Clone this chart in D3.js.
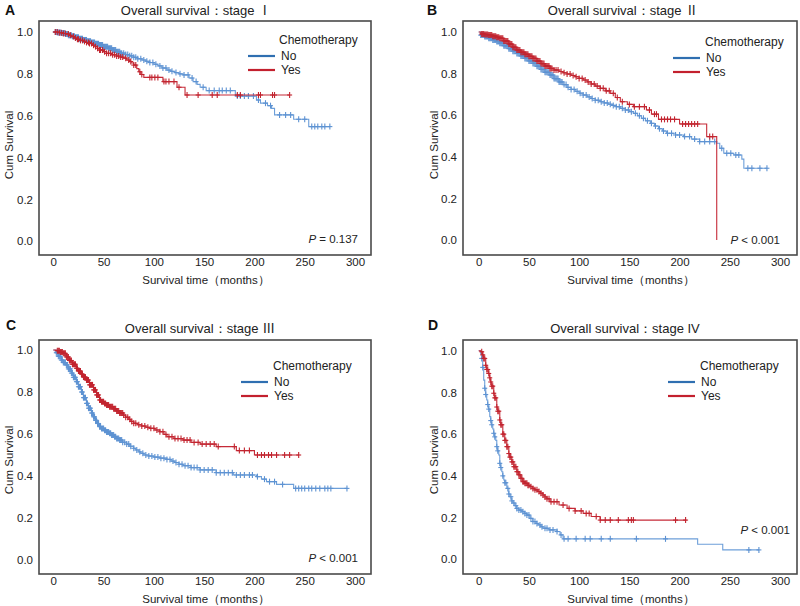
<!DOCTYPE html>
<html><head><meta charset="utf-8">
<script src="https://cdn.jsdelivr.net/npm/d3@7"></script>
<style>
html,body{margin:0;padding:0;background:#fff;}
svg text{font-family:"Liberation Sans",Arial,Helvetica,sans-serif;}
</style></head>
<body><svg id="chart" width="800" height="606"></svg>
<script>
// ---------------- DATA ----------------
const panelLetters = ["A","B","C","D"];
const panelTitles = ["Overall survival：stage ","Overall survival：stage ","Overall survival：stage ","Overall survival：stage "];
const stageNumerals = ["Ⅰ","Ⅱ","Ⅲ","IV"];
const pValues = ["= 0.137","< 0.001","< 0.001","< 0.001"];
const groupNames = ["No","Yes"];
const legendTitle = "Chemotherapy";
const xTicks = [0,50,100,150,200,250,300];
const yTicks = [0,0.2,0.4,0.6,0.8,1.0];
const xLabel = "Survival time（months）";
const yLabel = "Cum Survival";

// Kaplan-Meier steps [month, survival]
const stage1No = [[0,1],[4,0.998],[8,0.995],[12,0.99],[15,0.985],[19,0.98],[22,0.975],[26,0.968],[30,0.962],[34,0.956],[38,0.95],[42,0.944],[46,0.938],[50,0.93],[55,0.922],[59,0.914],[63,0.906],[67,0.899],[72,0.892],[76,0.886],[80,0.879],[84,0.872],[88,0.866],[92,0.86],[96,0.854],[100,0.846],[104,0.838],[108,0.828],[113,0.818],[117,0.812],[121,0.806],[125,0.8],[129,0.795],[135,0.78],[139,0.763],[143,0.75],[146,0.736],[152,0.72],[181,0.694],[202,0.675],[206,0.66],[213,0.648],[217,0.635],[220,0.604],[239,0.583],[254,0.548],[275,0.548]];
const stage1Yes = [[0,1],[6,0.997],[10,0.993],[13,0.99],[16,0.984],[18,0.978],[21,0.971],[23,0.965],[27,0.96],[30,0.955],[33,0.95],[36,0.945],[39,0.937],[42,0.93],[44,0.922],[46,0.914],[50,0.906],[53,0.898],[58,0.891],[63,0.885],[67,0.88],[70,0.875],[73,0.866],[76,0.859],[78,0.852],[80,0.842],[83,0.825],[85,0.81],[87,0.797],[90,0.783],[109,0.763],[123,0.736],[131,0.699],[235,0.699]];
const stage2No = [[0,1],[2,0.985],[6,0.978],[10,0.97],[14,0.962],[18,0.954],[21,0.946],[25,0.934],[30,0.92],[34,0.908],[38,0.897],[42,0.885],[46,0.873],[50,0.861],[54,0.849],[58,0.835],[62,0.82],[66,0.806],[71,0.793],[75,0.776],[80,0.76],[84,0.747],[88,0.734],[92,0.724],[96,0.715],[100,0.706],[104,0.697],[108,0.688],[112,0.68],[116,0.672],[121,0.665],[125,0.659],[129,0.653],[133,0.647],[137,0.641],[141,0.633],[146,0.625],[150,0.617],[154,0.609],[158,0.597],[162,0.585],[166,0.573],[171,0.561],[175,0.548],[179,0.535],[183,0.524],[187,0.513],[196,0.505],[204,0.497],[212,0.485],[220,0.473],[237,0.465],[240,0.441],[244,0.417],[254,0.409],[262,0.389],[264,0.345],[287,0.345]];
const stage2Yes = [[0,1],[2,0.99],[6,0.988],[10,0.985],[14,0.98],[18,0.975],[21,0.97],[25,0.957],[30,0.942],[34,0.927],[38,0.913],[42,0.903],[46,0.893],[50,0.883],[54,0.873],[58,0.86],[62,0.848],[66,0.836],[71,0.825],[75,0.817],[80,0.81],[84,0.804],[88,0.798],[92,0.791],[96,0.785],[100,0.777],[104,0.769],[108,0.76],[112,0.75],[116,0.74],[121,0.729],[126,0.717],[131,0.705],[136,0.685],[141,0.665],[148,0.652],[154,0.641],[167,0.625],[172,0.605],[179,0.58],[200,0.558],[227,0.497],[237,0]];
const stage3No = [[0,1],[2,0.987],[5,0.97],[8,0.952],[10,0.94],[13,0.929],[15,0.91],[18,0.89],[20,0.87],[23,0.849],[25,0.825],[28,0.8],[30,0.773],[33,0.746],[35,0.723],[38,0.7],[40,0.682],[42,0.665],[44,0.65],[46,0.635],[48,0.626],[51,0.618],[53,0.61],[56,0.603],[58,0.595],[61,0.587],[63,0.579],[66,0.571],[69,0.561],[73,0.552],[76,0.542],[80,0.532],[82,0.524],[85,0.515],[87,0.508],[90,0.5],[95,0.495],[100,0.49],[106,0.485],[113,0.479],[117,0.471],[121,0.464],[125,0.456],[129,0.449],[137,0.44],[146,0.429],[162,0.416],[179,0.405],[202,0.397],[207,0.385],[212,0.373],[222,0.36],[239,0.341],[292,0.341]];
const stage3Yes = [[0,1],[3,0.997],[7,0.99],[10,0.984],[13,0.967],[16,0.95],[19,0.932],[23,0.913],[25,0.9],[28,0.885],[30,0.871],[33,0.857],[36,0.834],[40,0.81],[43,0.786],[46,0.762],[48,0.754],[51,0.745],[53,0.738],[56,0.73],[60,0.72],[63,0.71],[66,0.7],[70,0.69],[72,0.68],[75,0.67],[77,0.66],[80,0.651],[84,0.644],[88,0.638],[92,0.632],[96,0.627],[101,0.619],[106,0.611],[110,0.598],[113,0.587],[120,0.578],[129,0.571],[137,0.56],[146,0.552],[162,0.54],[182,0.521],[200,0.5],[244,0.5]];
const stage4No = [[0,1],[2,0.985],[3,0.963],[4,0.92],[5,0.859],[6,0.82],[7,0.79],[8,0.764],[9,0.742],[10,0.72],[11,0.684],[12,0.665],[13,0.645],[14,0.625],[15,0.604],[16,0.587],[17,0.57],[18,0.54],[19,0.52],[20,0.5],[21,0.46],[22,0.44],[23,0.42],[24,0.4],[25,0.38],[26,0.367],[28,0.34],[30,0.313],[31,0.3],[33,0.28],[34,0.27],[36,0.257],[38,0.244],[40,0.236],[43,0.228],[46,0.22],[48,0.212],[51,0.196],[54,0.181],[57,0.172],[59,0.165],[62,0.156],[64,0.149],[70,0.141],[78,0.133],[81,0.117],[84,0.098],[218,0.072],[243,0.045],[279,0.045]];
const stage4Yes = [[0,1],[2,0.995],[4,0.98],[5,0.963],[7,0.93],[8,0.91],[10,0.891],[11,0.87],[12,0.85],[13,0.83],[15,0.796],[16,0.774],[18,0.73],[19,0.71],[21,0.668],[22,0.645],[24,0.6],[26,0.57],[28,0.54],[30,0.507],[31,0.49],[33,0.467],[35,0.444],[38,0.42],[40,0.405],[42,0.388],[44,0.372],[46,0.364],[49,0.355],[51,0.348],[54,0.34],[56,0.333],[59,0.325],[61,0.317],[64,0.308],[66,0.299],[68,0.29],[71,0.276],[80,0.26],[88,0.244],[96,0.232],[104,0.22],[112,0.205],[121,0.188],[207,0.188]];

// censored observation times (months)
const cens1No = [2,3,4,5,6,7,8,9,10,11,12,13,14,15,16,17,18,19,20,21,22,23,24,25,26,27,28,29,30,31,32,33,34,35,36,37,38,39,40,41,42,43,44,45,46,47,48,49,50,51,52,53,54,55,56,57,58,59,60,61,62,63,64,65,66,67,68,70,72,74,76,78,80,82,84,87,90,93,96,99,102,106,109,112,115,118,122,126,130,134,138,142,149,155,160,165,168,172,176,183,186,190,194,199,204,211,216,225,231,236,244,250,257,260,263,267,270,275];
const cens1Yes = [2,4,6,8,10,12,15,17,20,22,24,25,27,29,31,33,35,36,38,40,42,44,46,47,49,51,53,55,57,59,61,63,65,67,69,72,75,77,80,82,86,88,96,98,101,104,110,112,115,120,125,133,144,158,163,183,186,204,206,218,220,235];
const cens2No = [2,3,4,5,6,7,8,9,10,11,12,13,14,15,16,17,18,19,20,21,22,23,24,25,26,27,28,29,30,31,32,33,34,35,36,37,38,39,40,41,42,43,44,45,46,47,48,49,50,51,52,53,54,55,56,57,58,59,60,61,62,63,64,65,66,67,68,69,70,71,72,73,74,75,76,77,78,79,80,81,82,83,85,87,89,92,95,98,101,104,107,110,113,116,119,122,125,128,131,134,137,140,143,146,149,152,156,160,164,168,172,176,180,184,188,192,196,200,205,210,215,220,225,230,235,242,247,251,256,259,268,272,280,287];
const cens2Yes = [3,4,5,6,7,8,9,10,11,12,13,14,15,16,17,18,19,20,21,22,23,24,25,26,27,28,29,30,31,32,33,34,35,36,37,38,39,40,41,42,43,44,45,46,47,48,49,50,51,52,53,54,55,56,57,58,59,60,61,62,63,64,65,66,67,68,69,70,71,72,73,75,77,79,82,85,88,91,94,97,100,103,106,109,112,115,118,121,124,127,130,134,138,143,150,155,160,165,170,175,177,182,185,188,191,195,203,206,209,212,215,218,230,233];
const cens3No = [3,4,5,6,7,8,9,10,11,12,13,14,15,16,17,18,19,20,21,22,23,24,25,26,27,28,29,30,31,32,33,34,35,36,37,38,39,40,41,42,43,44,45,46,47,48,49,50,51,52,53,54,55,56,57,58,59,60,61,62,63,64,65,66,67,68,69,71,73,75,77,80,83,86,89,92,95,98,101,104,107,110,113,116,119,122,125,128,131,134,137,140,143,146,150,154,158,162,166,170,174,178,182,186,190,195,198,203,210,215,220,228,241,244,247,250,254,257,261,265,270,273,276,292];
const cens3Yes = [4,5,6,7,8,9,10,11,12,13,14,15,16,17,18,19,20,21,22,23,24,25,26,27,28,29,30,31,32,33,34,35,36,37,38,39,40,41,42,43,44,45,46,47,48,49,50,51,52,53,54,55,56,57,58,59,60,61,62,63,64,65,66,67,68,69,70,72,74,76,78,80,82,85,88,91,94,97,100,103,106,109,112,115,118,121,124,127,130,133,136,140,144,148,152,156,160,164,180,185,190,195,203,207,210,214,217,222,230,235,244];
const cens4No = [3,4,6,7,9,10,12,13,15,16,18,19,21,22,24,26,27,29,30,32,33,35,37,38,40,42,44,46,48,50,52,54,56,58,61,63,66,68,71,74,78,82,85,89,97,106,111,122,131,157,186,269,279];
const cens4Yes = [3,4,5,6,7,8,9,10,11,12,13,14,15,16,17,18,19,20,21,22,23,24,25,26,27,28,29,30,31,32,33,34,35,36,37,38,39,40,41,42,43,44,45,46,47,48,49,50,52,54,56,58,60,62,64,66,68,70,72,75,78,84,90,96,102,107,110,117,121,126,131,139,149,152,154,196,206];

// ---------------- LAYOUT ----------------
const panels = [
  {box:[39,21,371,255], x:[53.3,355], y:[241.3,32], title:[196,15], letter:[5,15], leg:[279,248], legY:40, pv:[358,243], ylab:[9,145]},
  {box:[463,21,797,255], x:[478.7,780], y:[240,32], title:[623,15], letter:[427,15], leg:[705,673], legY:42, pv:[780,244], ylab:[434,145]},
  {box:[39,340,371,574], x:[53.3,355], y:[560,350], title:[200,333], letter:[6,330], leg:[273,241], legY:366, pv:[358,562], ylab:[9,460]},
  {box:[463,340,797,574], x:[478.7,780], y:[559.3,350.7], title:[625,333], letter:[428,330], leg:[700,668], legY:366, pv:[790,534], ylab:[434,460]}
];
const curves = [[stage1No,stage1Yes],[stage2No,stage2Yes],[stage3No,stage3Yes],[stage4No,stage4Yes]];
const censors = [[cens1No,cens1Yes],[cens2No,cens2Yes],[cens3No,cens3Yes],[cens4No,cens4Yes]];
const lineColors = ["#6d9fd9","#c62b38"];
const markColors = ["#5d92d2","#c2242f"];
const legendColors = ["#2f6fb1","#c3202e"];

const svg = d3.select("#chart");

function survAt(steps, t){
  let s = steps[0][1];
  for (const p of steps){ if (p[0] <= t) s = p[1]; else break; }
  return s;
}

panels.forEach((P,i)=>{
  const g = svg.append("g");
  const x = d3.scaleLinear().domain([0,300]).range(P.x);
  const y = d3.scaleLinear().domain([0,1]).range(P.y);

  // axes (labels only)
  const xa = g.append("g").attr("transform",`translate(0,${P.box[3]+3})`)
    .call(d3.axisBottom(x).tickValues(xTicks).tickSize(0).tickPadding(0).tickFormat(d3.format("d")));
  xa.select(".domain").remove();
  xa.selectAll("text").attr("font-size",11.5).attr("fill","#222").attr("font-family","Liberation Sans, Arial, sans-serif");
  const ya = g.append("g").attr("transform",`translate(${P.box[0]-6},0)`)
    .call(d3.axisLeft(y).tickValues(yTicks).tickSize(0).tickPadding(0).tickFormat(d3.format(".1f")));
  ya.select(".domain").remove();
  ya.selectAll("text").attr("font-size",11.5).attr("fill","#222").attr("font-family","Liberation Sans, Arial, sans-serif");

  // curves
  const line = d3.line().x(d=>x(d[0])).y(d=>y(d[1])).curve(d3.curveStepAfter);
  curves[i].forEach((c,k)=>{
    g.append("path").attr("d",line(c)).attr("fill","none")
      .attr("stroke",lineColors[k]).attr("stroke-width",1.1);
    const cg = g.append("g").attr("stroke",markColors[k]).attr("stroke-width",1.1);
    censors[i][k].forEach(t=>{
      const cx = x(t), cy = y(survAt(c,t));
      cg.append("line").attr("x1",cx).attr("x2",cx).attr("y1",cy-3).attr("y2",cy+3);
      cg.append("line").attr("x1",cx-2.5).attr("x2",cx+2.5).attr("y1",cy).attr("y2",cy);
    });
  });

  // frame
  g.append("rect").attr("x",P.box[0]).attr("y",P.box[1])
    .attr("width",P.box[2]-P.box[0]).attr("height",P.box[3]-P.box[1])
    .attr("fill","none").attr("stroke","#4a4a4a").attr("stroke-width",1.6);

  // titles
  g.append("text").attr("x",P.letter[0]).attr("y",P.letter[1]).text(panelLetters[i])
    .attr("font-size",14).attr("font-weight","bold").attr("fill","#111");
  const tt = g.append("text").attr("x",P.title[0]).attr("y",P.title[1])
    .attr("font-size",13).attr("text-anchor","middle").attr("fill","#222");
  tt.append("tspan").text(panelTitles[i]);
  tt.append("tspan").text(stageNumerals[i])
    .attr("font-family", i < 3 ? "Noto Sans CJK SC, Liberation Sans, sans-serif" : "Liberation Sans, Arial, sans-serif");

  // axis titles
  g.append("text").attr("x",(P.box[0]+P.box[2])/2+1).attr("y",P.box[3]+29).text(xLabel)
    .attr("font-size",11.5).attr("text-anchor","middle").attr("fill","#222");
  g.append("text").attr("transform",`translate(${P.ylab[0]},${P.ylab[1]}) rotate(-90)`)
    .attr("dy","0.35em").text(yLabel).attr("font-size",11.5).attr("text-anchor","middle").attr("fill","#222");

  // legend
  g.append("text").attr("x",P.leg[0]).attr("y",P.legY).attr("dy","0.35em").text(legendTitle)
    .attr("font-size",12).attr("fill","#222");
  groupNames.forEach((nm,k)=>{
    const ly = P.legY + 16 + k*14;
    g.append("line").attr("x1",P.leg[1]).attr("x2",P.leg[1]+27).attr("y1",ly).attr("y2",ly)
      .attr("stroke",legendColors[k]).attr("stroke-width",2.2);
    g.append("text").attr("x",P.leg[1]+33).attr("y",ly).attr("dy","0.35em").text(nm)
      .attr("font-size",12).attr("fill","#222");
  });

  // p-value
  const pt = g.append("text").attr("x",P.pv[0]).attr("y",P.pv[1]).attr("text-anchor","end")
    .attr("font-size",11.5).attr("fill","#222");
  pt.append("tspan").attr("font-style","italic").text("P");
  pt.append("tspan").text(" " + pValues[i]);
});
</script></body></html>
